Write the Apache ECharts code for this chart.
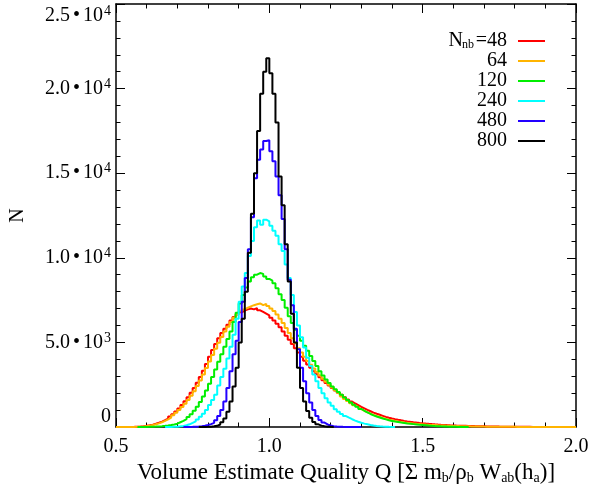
<!DOCTYPE html>
<html>
<head>
<meta charset="utf-8">
<script src="https://cdn.jsdelivr.net/npm/echarts@6/dist/echarts.min.js"></script>
<style>html,body{margin:0;padding:0;background:#fff}#c{width:594px;height:493px}</style>
</head>
<body>
<div id="c"></div>
<script>
// ---- data ----
const binWidth = 0.01;
const seriesNames = ['48', '64', '120', '240', '480', '800'];
const seriesColors = ['#ff0000', '#ffb400', '#00ee00', '#00ffff', '#2200ff', '#000000'];
const xTicks = [0.5, 1.0, 1.5, 2.0];
const yTicks = [0, 5000, 10000, 15000, 20000, 25000];

// N_nb = 48 (first bin left edge 0.52)
const start48 = 0.52;
const counts48 = [
  2,4,6,10,18,30,48,70,
  100,140,190,250,320,400,500,620,760,920,
  1100,1300,1520,1760,2020,2300,2620,2960,3320,3720,
  4150,4550,4900,5250,5550,5800,6050,6300,6500,6650,
  6780,6880,6950,7000,6950,7030,6900,6800,6700,6600,
  6450,6300,6100,5900,5650,5400,5150,4900,4650,4400,
  4150,3920,3700,3500,3300,3120,2940,2770,2600,2450,
  2300,2160,2030,1900,1760,1620,1500,1390,1290,1190,
  1100,1010,930,850,780,720,660,600,550,505,
  465,428,394,362,333,306,282,260,240,221,
  204,188,173,159,146,134,123,113,104,96,
  88,81,74,68,62,57,52,48,44,40,
  36,33,30,27,24,22,20,18,16,14,
  12,11,10,9,8,7,6,5,4,3,
  3,2,1,1
];

// N_nb = 64 (first bin left edge 0.50)
const start64 = 0.50;
const counts64 = [
  0,0,1,2,3,5,10,20,35,55,
  80,115,160,215,280,360,450,560,690,840,
  1000,1180,1380,1600,1850,2120,2420,2750,3100,3480,
  3870,4250,4620,4980,5320,5640,5930,6200,6450,6650,
  6820,6950,7050,7130,7200,7250,7300,7200,7280,7150,
  7000,6850,6650,6400,6150,5850,5550,5250,4950,4650,
  4400,4150,3900,3680,3460,3250,3050,2850,2670,2500,
  2330,2170,2020,1800,1650,1530,1400,1280,1170,1060,
  960,870,790,720,650,590,530,480,435,395,
  360,325,295,268,245,225,205,188,172,158,
  145,133,122,112,102,93,85,77,70,64,
  58,52,47,43,39,35,32,29,26,23,
  21,19,17,15,14,12,11,10,9,8,
  7,6,6,5,5,4,4,3,3,3,
  2,2,2,2,1,1,1,1,1,1
];

// N_nb = 120 (first bin left edge 0.57)
const start120 = 0.57;
const counts120 = [
  2,4,7,
  11,17,25,36,50,68,90,118,152,195,
  280,360,460,590,760,960,1200,1480,1800,2150,
  2550,2950,3400,3850,4300,4750,5200,5650,6200,6750,
  7300,7800,8250,8600,8850,9000,9100,9050,8900,8750,
  8650,8500,8200,7850,7500,7050,6550,6150,5750,5400,
  5100,4800,4500,4200,3900,3600,3300,3050,2800,2600,
  2400,2230,2070,1900,1750,1600,1450,1320,1190,1070,
  960,860,770,690,620,560,500,450,400,360,
  320,290,260,235,210,190,170,150,130,115,
  100,85,72,60,50,40,32,25,19,14,
  10,7,4,2,1
];

// N_nb = 240 (first bin left edge 0.66)
const start240 = 0.66;
const counts240 = [
  2,5,10,18,
  40,65,100,160,240,330,450,600,780,1000,
  1300,1600,1900,2450,2950,3450,4050,4750,5450,6400,
  7400,8300,9100,10100,11000,11800,12200,11950,12250,12150,
  11900,11600,11300,10800,10400,9600,8800,7800,6800,6000,
  5300,4700,4100,3600,3100,2700,2300,2000,1700,1450,
  1250,1050,900,770,650,550,460,380,310,250,
  200,160,120,90,65,45,30,20,12,6,
  2
];

// N_nb = 480 (first bin left edge 0.72)
const start480 = 0.72;
const counts480 = [
  2,5,10,18,30,50,80,120,
  170,240,400,650,1000,1500,2300,3300,4300,5100,
  6200,7400,8800,10500,12400,14700,15800,16400,16900,16950,
  16300,15700,14800,13700,12300,10500,8700,7200,5800,4600,
  3500,2700,2000,1450,1000,650,420,260,150,90,
  50,30,15,8,5,3,2,1,1,0
];

// N_nb = 800 (first bin left edge 0.77)
const start800 = 0.77;
const counts800 = [
  2,5,10,
  20,40,70,150,280,500,900,1500,2400,3500,
  5000,6400,8000,10300,12600,15000,17500,19700,21000,21800,
  20900,19700,18000,14800,13100,10800,8600,6700,5000,3500,
  2300,1500,950,550,300,160,80,40,20,8,
  2
];

const histStarts = [start48, start64, start120, start240, start480, start800];
const histCounts = [counts48, counts64, counts120, counts240, counts480, counts800];

// ---- chart ----
const FONT = '"Liberation Serif", "Times New Roman", serif';
function steps(start, counts) {
  const pts = counts.map((c, i) => [Math.round((start + i * binWidth) * 1000) / 1000, c]);
  pts.push([Math.round((start + counts.length * binWidth) * 1000) / 1000, counts[counts.length - 1]]);
  return pts;
}
function yLabel(v) {
  if (v === 0) return '{b|0}';
  const e = Math.floor(Math.log10(v) + 1e-9);
  const m = v / Math.pow(10, e);
  return '{b|' + m.toFixed(1) + '}{d|•}{b|10}{e|' + e + '}';
}
const tickCommon = {
  axisLine: { show: true, onZero: false, lineStyle: { color: '#000', width: 1.5 } },
  axisTick: { show: true, inside: true, length: 9, lineStyle: { color: '#000', width: 1 } },
  minorTick: { show: true, splitNumber: 5, length: 4.5, lineStyle: { color: '#000', width: 1 } },
  splitLine: { show: false },
  minorSplitLine: { show: false }
};

const chart = echarts.init(document.getElementById('c'), null, { renderer: 'canvas' });
chart.setOption({
  animation: false,
  backgroundColor: '#fff',
  grid: { left: 114, right: 18, top: 4, bottom: 66, containLabel: false },
  xAxis: [
    Object.assign({
      type: 'value', min: 0.5, max: 2.0, interval: 0.5, position: 'bottom',
      axisLabel: { show: true, margin: 10, color: '#000', fontFamily: FONT, fontSize: 20,
        formatter: v => v.toFixed(1) },
      name: '{t|Volume Estimate Quality Q [Σ m}{s|b}{t|/ρ}{s|b}{t| W}{s|ab}{t|(h}{s|a}{t|)]}',
      nameLocation: 'middle', nameGap: 34,
      nameTextStyle: { color: '#000', fontFamily: FONT, fontSize: 23,
        rich: { t: { fontFamily: FONT, fontSize: 23, color: '#000' },
                s: { fontFamily: FONT, fontSize: 14, color: '#000', padding: [9, 0, 0, 0] } } }
    }, tickCommon),
    Object.assign({
      type: 'value', min: 0.5, max: 2.0, interval: 0.5, position: 'top',
      axisLabel: { show: false }
    }, tickCommon)
  ],
  yAxis: [
    Object.assign({
      type: 'value', min: 0, max: 25000, interval: 5000, position: 'left',
      axisLabel: { show: true, margin: 5, color: '#000', fontFamily: FONT, fontSize: 20,
        verticalAlignMinLabel: 'bottom', verticalAlignMaxLabel: 'top',
        formatter: yLabel,
        rich: { b: { fontFamily: FONT, fontSize: 20, color: '#000' },
                d: { fontFamily: FONT, fontSize: 20, color: '#000', padding: [0, 3, 0, 3] },
                e: { fontFamily: FONT, fontSize: 14, color: '#000', padding: [0, 0, 9, 1] } } },
      name: 'N', nameLocation: 'middle', nameGap: 88, nameRotate: 90,
      nameTextStyle: { color: '#000', fontFamily: FONT, fontSize: 20 }
    }, tickCommon),
    Object.assign({
      type: 'value', min: 0, max: 25000, interval: 5000, position: 'right',
      axisLabel: { show: false }
    }, tickCommon)
  ],
  legend: {
    data: seriesNames,
    orient: 'vertical', right: 44, top: 26, align: 'right',
    icon: 'rect', itemWidth: 27, itemHeight: 2, itemGap: 0,
    selectedMode: false,
    formatter: name => name === '48'
      ? '{n|N}{s|nb}{e|=48}{g|}'
      : '{v|' + name + '}{g|}',
    textStyle: {
      color: '#000', fontFamily: FONT, fontSize: 20,
      rich: {
        n: { fontFamily: FONT, fontSize: 20, color: '#000', width: 14, lineHeight: 20 },
        s: { fontFamily: FONT, fontSize: 12, color: '#000', width: 11, padding: [8, 0, 0, 0] },
        e: { fontFamily: FONT, fontSize: 20, color: '#000', width: 33, lineHeight: 20 },
        v: { fontFamily: FONT, fontSize: 20, color: '#000', width: 58, align: 'right', lineHeight: 20 },
        g: { width: 6, lineHeight: 20 }
      }
    }
  },
  series: seriesNames.map((nm, k) => ({
    name: nm,
    type: 'line',
    step: 'end',
    symbol: 'none',
    xAxisIndex: 0,
    yAxisIndex: 0,
    color: seriesColors[k],
    lineStyle: { color: seriesColors[k], width: 2 },
    data: steps(histStarts[k], histCounts[k]),
    z: 2 + k
  }))
});
</script>
</body>
</html>
